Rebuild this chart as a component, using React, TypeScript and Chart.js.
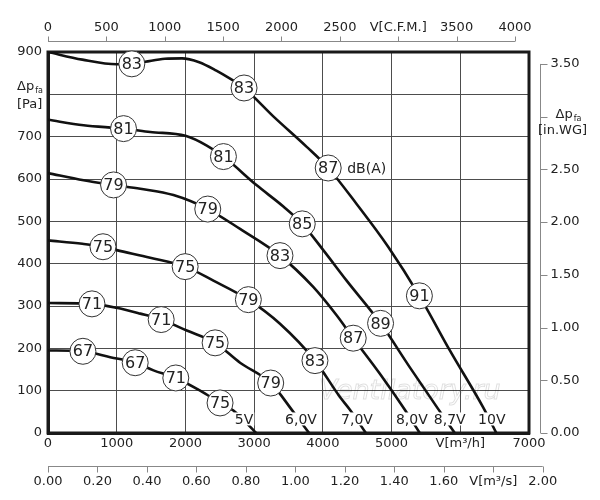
import { useEffect, useRef } from 'react';
import { Chart, registerables } from 'chart.js';

Chart.register(...registerables);

// fan curves: air flow V [m3/h] against static pressure dp_fa [Pa]
const flow10V = [0, 500, 1000, 1220, 1414, 1700, 1950, 2200, 2450, 2650, 2853, 3279, 3765, 4078, 4491, 4950, 5405, 5848, 6331, 6525];
const pa10V = [900, 882, 871, 872, 877, 884, 885, 876, 856, 837, 815, 748, 676, 626, 541, 440, 324, 195, 61, 0];

const flow87V = [0, 518, 1099, 1487, 2000, 2311, 2553, 3038, 3425, 3700, 4006, 4346, 4840, 5266, 5677, 5920];
const pa87V = [740, 727, 719, 711, 702, 679, 653, 585, 535, 494, 432, 360, 259, 155, 57, 0];

const flow80V = [0, 518, 954, 1343, 1826, 2325, 2795, 3376, 3860, 4200, 4442, 4830, 5193, 5410];
const pa80V = [614, 597, 586, 577, 562, 529, 482, 419, 345, 278, 224, 140, 55, 0];

const flow70V = [0, 500, 800, 1000, 1487, 1996, 2407, 2916, 3376, 3885, 4249, 4394, 4626];
const pa70V = [455, 447, 440, 432, 414, 393, 360, 315, 258, 171, 85, 55, 0];

const flow60V = [0, 640, 994, 1343, 1647, 2020, 2432, 2795, 3241, 3570, 3800];
const pa60V = [307, 305, 296, 282, 268, 242, 213, 166, 118, 50, 0];

const flow5V = [0, 508, 906, 1269, 1535, 1860, 2214, 2504, 2698, 3030];
const pa5V = [195, 193, 179, 166, 148, 130, 100, 71, 53, 0];

// noise level circles (dB(A)) sitting on the curves
const markerFlow = [1220, 2853, 4078, 5405, 1099, 2553, 3700, 4840, 954, 2325, 3376, 4442, 800, 1996, 2916, 3885, 640, 1647, 2432, 3241, 508, 1269, 1860, 2504];
const markerPa = [872, 815, 626, 324, 719, 653, 494, 259, 586, 529, 419, 224, 440, 393, 315, 171, 305, 268, 213, 118, 193, 166, 130, 71];
const markerDb = [83, 83, 87, 91, 81, 81, 85, 89, 79, 79, 83, 87, 75, 75, 79, 83, 71, 71, 75, 79, 67, 67, 71, 75];

// control voltage labels near the curve ends
const voltLabels = ['5V', '6,0V', '7,0V', '8,0V', '8,7V', '10V'];
const voltFlow = [2853, 3682, 4496, 5295, 5847, 6458];
const voltPa = 32;

// secondary axes
const cfmTicks = [0, 500, 1000, 1500, 2000, 2500, 3000, 3500, 4000];
const m3sTicks = [0, 0.2, 0.4, 0.6, 0.8, 1.0, 1.2, 1.4, 1.6, 1.8, 2.0];
const inwgTicks = [0, 0.5, 1.0, 1.5, 2.0, 2.5, 3.0, 3.5];

const CFM = 1.699; // m3/h per CFM
const M3S = 3600; // m3/h per m3/s
const INWG = 249.09; // Pa per in.WG

const FONT = "'DejaVu Sans', sans-serif";
const INK = '#222';
const GRID = '#4d4d4d';

const decorations = {
  id: 'decorations',
  beforeDatasetsDraw(chart: any) {
    const { ctx, chartArea: a } = chart;
    ctx.save();
    ctx.strokeStyle = '#1a1a1a';
    ctx.lineWidth = 3;
    ctx.strokeRect(a.left, a.top, a.right - a.left, a.bottom - a.top);
    ctx.restore();
  },
  afterDatasetsDraw(chart: any) {
    const { ctx, scales: { x, y } } = chart;
    ctx.save();
    ctx.fillStyle = INK;
    ctx.textAlign = 'center';
    ctx.textBaseline = 'middle';
    ctx.font = `16px ${FONT}`;
    markerDb.forEach((db, i) => {
      ctx.fillText(String(db), x.getPixelForValue(markerFlow[i]), y.getPixelForValue(markerPa[i]) + 1);
    });

    ctx.font = `14px ${FONT}`;
    ctx.textAlign = 'left';
    ctx.fillText('dB(A)', x.getPixelForValue(markerFlow[2]) + 19, y.getPixelForValue(markerPa[2]) + 1);

    ctx.textAlign = 'center';
    voltLabels.forEach((t, i) => {
      const px = x.getPixelForValue(voltFlow[i]);
      const py = y.getPixelForValue(voltPa);
      const w = ctx.measureText(t).width;
      ctx.fillStyle = '#fff';
      ctx.fillRect(px - w / 2 - 1, py - 7, w + 2, 13);
      ctx.fillStyle = INK;
      ctx.fillText(t, px, py + 1);
    });

    // watermark
    ctx.font = `italic 27px ${FONT}`;
    ctx.textAlign = 'left';
    ctx.textBaseline = 'alphabetic';
    ctx.strokeStyle = 'rgba(0,0,0,0.13)';
    ctx.lineWidth = 1;
    ctx.strokeText('Ventilatory.ru', chart.chartArea.right - 210, y.getPixelForValue(80));
    ctx.restore();
  },
  afterDraw(chart: any) {
    const { ctx, chartArea: a, scales: { x, y } } = chart;
    ctx.save();
    ctx.strokeStyle = '#888';
    ctx.lineWidth = 1;
    ctx.fillStyle = INK;
    ctx.font = `13px ${FONT}`;
    ctx.textBaseline = 'middle';
    ctx.textAlign = 'center';

    // top axis: C.F.M.
    const yT = Math.round(a.top - 11) + 0.5;
    ctx.beginPath();
    ctx.moveTo(x.getPixelForValue(0), yT);
    ctx.lineTo(x.getPixelForValue(cfmTicks[cfmTicks.length - 1] * CFM), yT);
    cfmTicks.forEach((v) => {
      const px = Math.round(x.getPixelForValue(v * CFM)) + 0.5;
      ctx.moveTo(px, yT);
      ctx.lineTo(px, yT - 5);
    });
    ctx.stroke();
    cfmTicks.forEach((v) => {
      const px = x.getPixelForValue(v * CFM);
      ctx.fillText(v === 3000 ? 'V[C.F.M.]' : String(v), px, yT - 14);
    });

    // bottom axis: m3/s
    const yB = Math.round(a.bottom + 33) + 0.5;
    ctx.beginPath();
    ctx.moveTo(x.getPixelForValue(0), yB);
    ctx.lineTo(x.getPixelForValue(m3sTicks[m3sTicks.length - 1] * M3S), yB);
    m3sTicks.forEach((v) => {
      const px = Math.round(x.getPixelForValue(v * M3S)) + 0.5;
      ctx.moveTo(px, yB);
      ctx.lineTo(px, yB + 6);
    });
    ctx.stroke();
    m3sTicks.forEach((v) => {
      const px = x.getPixelForValue(v * M3S);
      const t = v.toFixed(2);
      ctx.fillText(t === '1.80' ? 'V[m³/s]' : t, px, yB + 15);
    });

    // right axis: in.WG
    const xR = Math.round(a.right + 11) + 0.5;
    ctx.beginPath();
    ctx.moveTo(xR, y.getPixelForValue(0));
    ctx.lineTo(xR, y.getPixelForValue(inwgTicks[inwgTicks.length - 1] * INWG));
    inwgTicks.forEach((v) => {
      const py = Math.round(y.getPixelForValue(v * INWG)) + 0.5;
      ctx.moveTo(xR, py);
      ctx.lineTo(xR + 7, py);
    });
    ctx.stroke();
    ctx.textAlign = 'left';
    inwgTicks.forEach((v) => {
      if (v === 3) return;
      ctx.fillText(v.toFixed(2), xR + 10, y.getPixelForValue(v * INWG));
    });

    // axis titles
    ctx.textBaseline = 'alphabetic';
    const drawDp = (left: number, base: number) => {
      ctx.font = `13px ${FONT}`;
      ctx.textAlign = 'left';
      ctx.fillText('Δp', left, base);
      const w = ctx.measureText('Δp').width;
      ctx.font = `8px ${FONT}`;
      ctx.fillText('fa', left + w + 1, base + 3);
    };
    const pyL = y.getPixelForValue(800);
    drawDp(17, pyL - 4);
    ctx.font = `13px ${FONT}`;
    ctx.fillText('[Pa]', 17, pyL + 14);

    const pyR = y.getPixelForValue(3 * INWG);
    drawDp(xR + 15, pyR + 1);
    ctx.font = `13px ${FONT}`;
    ctx.textAlign = 'center';
    ctx.fillText('[in.WG]', xR + 22, pyR + 17);
    ctx.restore();
  },
};

export default function App() {
  const canvasRef = useRef<HTMLCanvasElement>(null);
  const chartRef = useRef<Chart | null>(null);

  useEffect(() => {
    if (!canvasRef.current) return;
    if (chartRef.current) chartRef.current.destroy();

    const curves = [
      { flow: flow10V, pa: pa10V },
      { flow: flow87V, pa: pa87V },
      { flow: flow80V, pa: pa80V },
      { flow: flow70V, pa: pa70V },
      { flow: flow60V, pa: pa60V },
      { flow: flow5V, pa: pa5V },
    ];

    const datasets: any[] = curves.map((c) => ({
      data: c.flow.map((f, i) => ({ x: f, y: c.pa[i] })),
      borderColor: '#111',
      borderWidth: 2.6,
      pointRadius: 0,
      cubicInterpolationMode: 'monotone',
      fill: false,
      order: 2,
    }));

    datasets.push({
      data: markerFlow.map((f, i) => ({ x: f, y: markerPa[i] })),
      showLine: false,
      pointRadius: 13,
      pointBackgroundColor: '#fff',
      pointBorderColor: '#333',
      pointBorderWidth: 1,
      clip: false,
      order: 1,
    });

    chartRef.current = new Chart(canvasRef.current, {
      type: 'line',
      data: { datasets },
      options: {
        animation: false,
        responsive: true,
        maintainAspectRatio: false,
        events: [],
        layout: { padding: { top: 52, right: 71, bottom: 47, left: 0 } },
        plugins: { legend: { display: false }, tooltip: { enabled: false } },
        scales: {
          x: {
            type: 'linear',
            min: 0,
            max: 7000,
            afterFit: (s: any) => { s.height = 20; },
            grid: { color: GRID, lineWidth: 1, drawTicks: false },
            border: { display: true, color: '#1a1a1a', width: 3 },
            ticks: {
              stepSize: 1000,
              padding: 3,
              maxRotation: 0,
              autoSkip: false,
              color: INK,
              font: { family: FONT, size: 13 },
              callback: (v: any) => (v === 6000 ? 'V[m³/h]' : String(v)),
            },
          },
          y: {
            type: 'linear',
            min: 0,
            max: 900,
            afterFit: (s: any) => { s.width = 48; },
            grid: { color: GRID, lineWidth: 1, drawTicks: false },
            border: { display: true, color: '#1a1a1a', width: 3 },
            ticks: {
              stepSize: 100,
              padding: 6,
              color: INK,
              font: { family: FONT, size: 13 },
              callback: (v: any) => (v === 800 ? '' : String(v)),
            },
          },
        },
      },
      plugins: [decorations],
    });

    return () => {
      if (chartRef.current) {
        chartRef.current.destroy();
        chartRef.current = null;
      }
    };
  }, []);

  return (
    <div style={{ position: 'absolute', left: 0, top: 0, width: 600, height: 500, background: '#fff' }}>
      <canvas ref={canvasRef} />
    </div>
  );
}
